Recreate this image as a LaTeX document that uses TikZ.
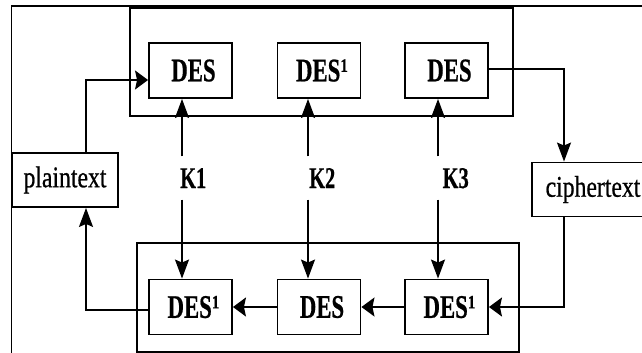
\documentclass[tikz,border=0pt]{standalone}
\usepackage{graphicx}
\usepackage{fontspec}
\setmainfont{Liberation Serif}
\newfontfamily\labelfont[FakeBold=0.8]{Liberation Serif}
\newfontfamily\heavyfont[FakeBold=0.7]{Liberation Serif}
\usetikzlibrary{arrows.meta}
% horizontally condensed text
\newcommand{\narrow}[2]{\scalebox{#1}[1]{#2}}
% "DES" with an optional raised index, set slightly right of the box centre
\newcommand{\desname}[1]{\hspace*{6pt}\narrow{0.69}{DES}#1}
\newcommand{\idx}{\raisebox{9.5pt}{\narrow{0.8}{\fontsize{19}{19}\selectfont 1}}}

\begin{document}
\begin{tikzpicture}[x=1pt,y=-1pt,
  desbox/.style={draw, line width=1.9pt, minimum width=83pt, minimum height=55pt,
    inner sep=0pt, font=\fontsize{33}{33}\heavyfont\bfseries},
  txtbox/.style={draw, line width=1.9pt, minimum height=54pt, inner sep=0pt,
    font=\fontsize{30}{30}\labelfont},
  klab/.style={inner xsep=0pt, inner ysep=11.5pt, text height=20pt, text depth=0pt,
    font=\fontsize{30}{30}\heavyfont\bfseries},
  link/.style={line width=1.6pt},
  harrow/.style={link, -{Stealth[length=13pt,width=19pt,inset=2pt]}},
  varrow/.style={link, -{Stealth[length=19pt,width=14pt,inset=3pt]}},
  frame/.style={line width=1.6pt}]

\useasboundingbox (0,0) rectangle (642,353);
\clip (0,0) rectangle (642,353);

% outer frame and the two stage groups
\draw[frame] (11.5,370) -- (11.5,6) -- (660,6);
\draw[frame] (130,8) rectangle (513,116);
\draw[frame] (137,243) rectangle (519,352);

% encryption stage
\node[desbox] (t1) at (190.5,70.5) {\desname{}};
\node[desbox] (t2) at (319,70.5)   {\desname{\idx}};
\node[desbox] (t3) at (446.5,70.5) {\desname{}};

% decryption stage
\node[desbox] (b1) at (190.5,307) {\desname{\idx}};
\node[desbox] (b2) at (319,307)   {\desname{}};
\node[desbox] (b3) at (446.5,307) {\desname{\idx}};

% plaintext / ciphertext
\node[txtbox, minimum width=106pt] (plain) at (65,180) {\narrow{0.79}{plaintext}};
\node[txtbox, minimum width=122pt] (cipher) at (593,189.5) {\narrow{0.79}{ciphertext}};

% keys
\node[klab, anchor=west] (k1) at (180,178) {\narrow{0.68}{K1}};
\node[klab, anchor=west] (k2) at (309,178) {\narrow{0.68}{K2}};
\node[klab, anchor=west] (k3) at (442.5,178) {\narrow{0.68}{K3}};

\coordinate (a1) at ([xshift=2pt]k1.north west);
\coordinate (c1) at ([xshift=2pt]k1.south west);
\coordinate (a2) at ([xshift=-1pt]k2.north west);
\coordinate (c2) at ([xshift=-1pt]k2.south west);
\coordinate (a3) at ([xshift=-4.5pt]k3.north west);
\coordinate (c3) at ([xshift=-4.5pt]k3.south west);

\draw[varrow] (a1) -- (a1 |- t1.south);
\draw[varrow] (c1) -- (c1 |- b1.north);
\draw[varrow] (a2) -- (a2 |- t2.south);
\draw[varrow] (c2) -- (c2 |- b2.north);
\draw[varrow] (a3) -- (a3 |- t3.south);
\draw[varrow] (c3) -- (c3 |- b3.north);

% data flow
\coordinate (pin)  at ([xshift=21pt]plain.north);
\coordinate (pout) at ([xshift=21pt]plain.south);
\coordinate (cin)  at ([xshift=-29pt]cipher.north);
\coordinate (cout) at ([xshift=-29pt]cipher.south);

\draw[harrow] (pin) |- ([yshift=-9.5pt]t1.west);
\draw[varrow] ([yshift=1.5pt]t3.east) -| (cin);
\draw[harrow] (cout) |- (b3.east);
\draw[harrow] (b3.west) -- (b2.east);
\draw[harrow] (b2.west) -- (b1.east);
\draw[varrow] ([yshift=-3pt]b1.west) -| (pout);
\end{tikzpicture}
\end{document}
